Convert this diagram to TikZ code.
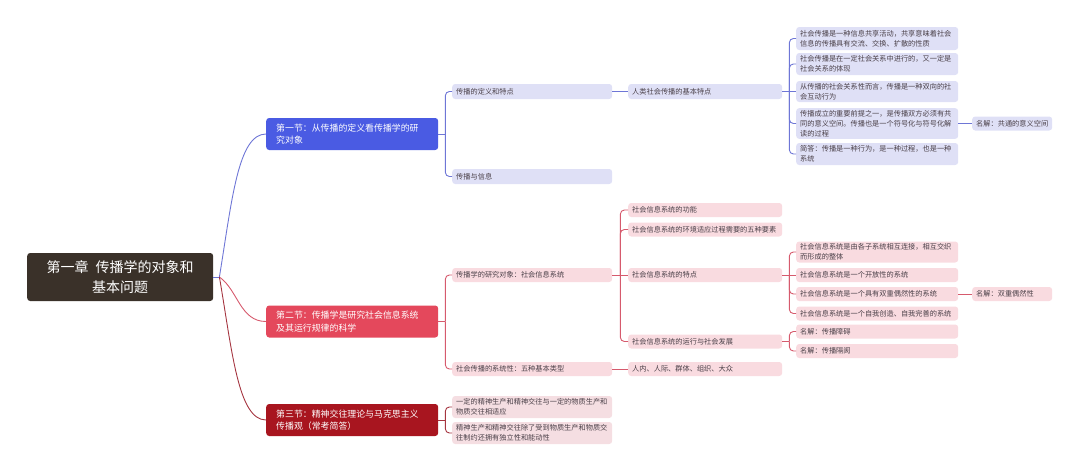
\documentclass[tikz,border=0pt]{standalone}
\usepackage{fontspec}
\newfontfamily\cjk{Noto Sans CJK SC}
\definecolor{rootc}{HTML}{3A3129}
\definecolor{blueS}{HTML}{4A5BE3}
\definecolor{blueL}{HTML}{6E76D6}
\definecolor{lav}{HTML}{DFE0F6}
\definecolor{redS}{HTML}{E4485C}
\definecolor{redL}{HTML}{D65A6D}
\definecolor{pinkA}{HTML}{F9DBE0}
\definecolor{dredS}{HTML}{A8151F}
\definecolor{dredL}{HTML}{A53540}
\definecolor{pinkB}{HTML}{F5DEE2}
\definecolor{txt}{HTML}{4A4048}
\begin{document}
\begin{tikzpicture}[x=1pt,y=-1pt,
  rootbox/.style={anchor=west, fill=rootc, text=white, rounded corners=3pt, text width=170pt, inner xsep=8pt, minimum height=48pt, align=center, font=\cjk\fontsize{14}{20}\selectfont},
  secbox/.style={anchor=west, text=white, rounded corners=3pt, text width=156pt, inner xsep=8pt, minimum height=32pt, align=left, font=\cjk\fontsize{8.9}{12.5}\selectfont},
  leaf/.style={anchor=west, text=txt, rounded corners=3pt, inner xsep=4pt, inner ysep=2pt, align=left, font=\cjk\fontsize{7.2}{10}\selectfont},
  wA/.style={text width=152pt},
  wB/.style={text width=146pt},
  wC/.style={text width=154pt},
  wD/.style={text width=72pt},
  lb/.style={leaf, fill=lav},
  lp/.style={leaf, fill=pinkA},
  lq/.style={leaf, fill=pinkB},
  bl/.style={draw=blueL, line width=0.9pt},
  rl/.style={draw=redL, line width=0.9pt},
  dl/.style={draw=dredL, line width=0.9pt},
  elb/.style={rounded corners=4pt}
]
\useasboundingbox (0,0) rectangle (1080,471);

% root and sections
\node[rootbox] (r) at (27,277) {第一章\hspace{0.5em}传播学的对象和\\基本问题};
\node[secbox, fill=blueS] (s1) at (266,134) {\hspace{2pt}第一节：从传播的定义看传播学的研\\\hspace{2pt}究对象};
\node[secbox, fill=redS] (s2) at (266,321.5) {\hspace{2pt}第二节：传播学是研究社会信息系统\\\hspace{2pt}及其运行规律的科学};
\node[secbox, fill=dredS] (s3) at (266,420) {\hspace{2pt}第三节：精神交往理论与马克思主义\\\hspace{2pt}传播观（常考简答）};

% section 1
\node[lb, wA, minimum height=15pt] (a1) at (452,91.5) {传播的定义和特点};
\node[lb, wA, minimum height=15pt] (a2) at (452,176.5) {传播与信息};
\node[lb, wB, minimum height=15pt] (b1) at (628,91.5) {人类社会传播的基本特点};
\node[lb, wC, minimum height=23pt] (c1) at (796,38.5) {社会传播是一种信息共享活动，共享意味着社会\\信息的传播具有交流、交换、扩散的性质};
\node[lb, wC, minimum height=22pt] (c2) at (796,64) {社会传播是在一定社会关系中进行的，又一定是\\社会关系的体现};
\node[lb, wC, minimum height=21pt] (c3) at (796,91.5) {从传播的社会关系性而言，传播是一种双向的社\\会互动行为};
\node[lb, wC, minimum height=30pt] (c4) at (796,123.5) {传播成立的重要前提之一，是传播双方必须有共\\同的意义空间。传播也是一个符号化与符号化解\\读的过程};
\node[lb, wC, minimum height=22pt] (c5) at (796,154) {简答：传播是一种行为，是一种过程，也是一种\\系统};
\node[lb, wD, minimum height=14pt] (d1) at (972,123.5) {名解：共通的意义空间};

% section 2
\node[lp, wA, minimum height=14pt] (e1) at (452,275) {传播学的研究对象：社会信息系统};
\node[lp, wA, minimum height=14pt] (e2) at (452,369) {社会传播的系统性：五种基本类型};
\node[lp, wB, minimum height=14pt] (f1) at (628,210) {社会信息系统的功能};
\node[lp, wB, minimum height=14pt] (f2) at (628,229.5) {社会信息系统的环境适应过程需要的五种要素};
\node[lp, wB, minimum height=14pt] (f3) at (628,275) {社会信息系统的特点};
\node[lp, wB, minimum height=14pt] (f4) at (628,341.5) {社会信息系统的运行与社会发展};
\node[lp, wB, minimum height=14pt] (f5) at (628,369) {人内、人际、群体、组织、大众};
\node[lp, wC, minimum height=21pt] (g1) at (796,252) {社会信息系统是由各子系统相互连接，相互交织\\而形成的整体};
\node[lp, wC, minimum height=14pt] (g2) at (796,275) {社会信息系统是一个开放性的系统};
\node[lp, wC, minimum height=14pt] (g3) at (796,294) {社会信息系统是一个具有双重偶然性的系统};
\node[lp, wC, minimum height=14pt] (g4) at (796,313.5) {社会信息系统是一个自我创造、自我完善的系统};
\node[lp, wD, minimum height=14pt] (h1) at (972,294) {名解：双重偶然性};
\node[lp, wC, minimum height=14pt] (g5) at (796,331.5) {名解：传播障碍};
\node[lp, wC, minimum height=14pt] (g6) at (796,351) {名解：传播隔阂};

% section 3
\node[lq, wA, minimum height=22pt] (k1) at (452,407) {一定的精神生产和精神交往与一定的物质生产和\\物质交往相适应};
\node[lq, wA, minimum height=22pt] (k2) at (452,433) {精神生产和精神交往除了受到物质生产和物质交\\往制约还拥有独立性和能动性};

% root connectors
\coordinate (rj) at ([xshift=6pt]r.east);
\draw[bl] (r.east) -- (rj);
\draw[bl] (rj) .. controls (232,200) and (238,134) .. (s1.west);
\draw[rl] (rj) .. controls (238,290) and (240,321.5) .. (s2.west);
\draw[dl] (rj) .. controls (232,350) and (238,420) .. (s3.west);

% section 1 connectors
\coordinate (s1j) at ([xshift=7pt]s1.east);
\draw[bl] (s1.east) -- (s1j);
\draw[bl, elb] (s1j) |- (a1.west);
\draw[bl, elb] (s1j) |- (a2.west);
\draw[bl] (a1.east) -- (b1.west);
\coordinate (b1j) at ([xshift=7pt]b1.east);
\draw[bl] (b1.east) -- (c3.west);
\draw[bl, elb] (b1j) |- (c1.west);
\draw[bl, elb] (b1j) |- (c2.west);
\draw[bl, elb] (b1j) |- (c4.west);
\draw[bl, elb] (b1j) |- (c5.west);
\draw[bl] (c4.east) -- (d1.west);

% section 2 connectors
\coordinate (s2j) at ([xshift=7pt]s2.east);
\draw[rl] (s2.east) -- (s2j);
\draw[rl, elb] (s2j) |- (e1.west);
\draw[rl, elb] (s2j) |- (e2.west);
\coordinate (e1j) at ([xshift=8pt]e1.east);
\draw[rl] (e1.east) -- (f3.west);
\draw[rl, elb] (e1j) |- (f1.west);
\draw[rl, elb] (e1j) |- (f2.west);
\draw[rl, elb] (e1j) |- (f4.west);
\coordinate (f3j) at ([xshift=7pt]f3.east);
\draw[rl] (f3.east) -- (g2.west);
\draw[rl, elb] (f3j) |- (g1.west);
\draw[rl, elb] (f3j) |- (g3.west);
\draw[rl, elb] (f3j) |- (g4.west);
\draw[rl] (g3.east) -- (h1.west);
\coordinate (f4j) at ([xshift=7pt]f4.east);
\draw[rl] (f4.east) -- (f4j);
\draw[rl, elb] (f4j) |- (g5.west);
\draw[rl, elb] (f4j) |- (g6.west);
\draw[rl] (e2.east) -- (f5.west);

% section 3 connectors
\coordinate (s3j) at ([xshift=7pt]s3.east);
\draw[dl] (s3.east) -- (s3j);
\draw[dl, elb] (s3j) |- (k1.west);
\draw[dl, elb] (s3j) |- (k2.west);
\end{tikzpicture}
\end{document}
